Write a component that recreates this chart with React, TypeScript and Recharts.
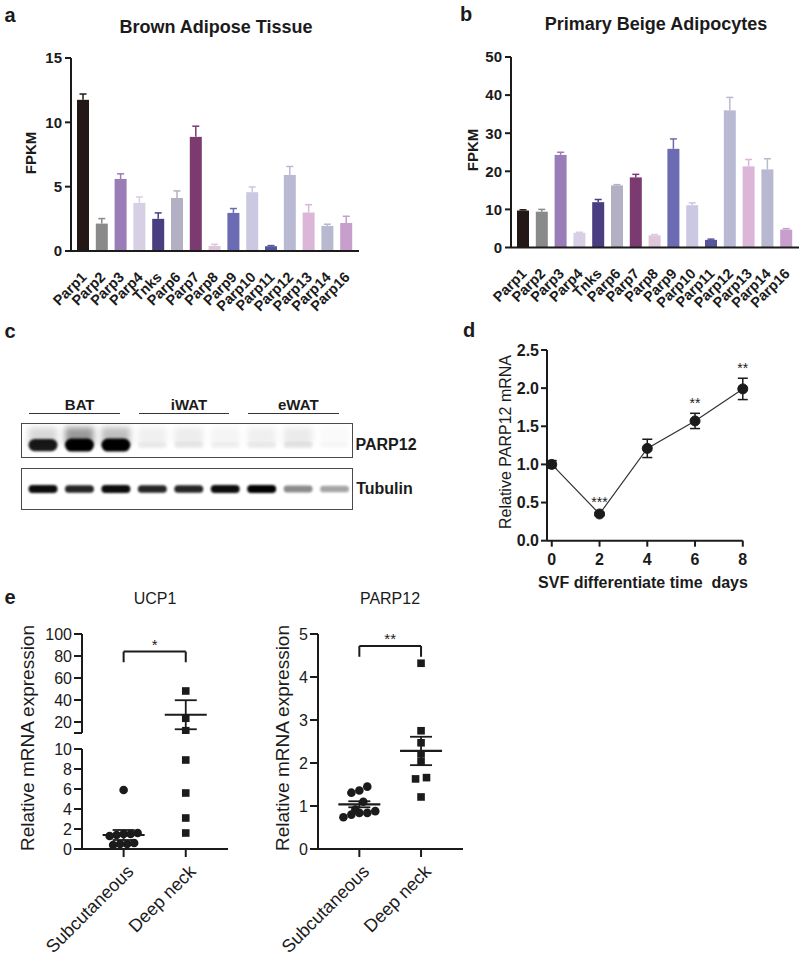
import React from 'react';
import {
  BarChart,
  Bar,
  LineChart,
  Line,
  ScatterChart,
  Scatter,
  XAxis,
  YAxis,
  ErrorBar,
  LabelList,
  ReferenceLine,
} from 'recharts';

const FONT = '"Liberation Sans", Arial, Helvetica, sans-serif';
const INK = '#1b1b1b';

// a, b: FPKM of PARP family members
const genes = ['Parp1', 'Parp2', 'Parp3', 'Parp4', 'Tnks', 'Parp6', 'Parp7', 'Parp8', 'Parp9', 'Parp10', 'Parp11', 'Parp12', 'Parp13', 'Parp14', 'Parp16'];
const geneColors = ['#231815', '#8a8a8a', '#9a7db6', '#d7cfe4', '#4a3d80', '#b3b0c4', '#7b3a70', '#dec6dc', '#6b6bb3', '#cac9e1', '#56569c', '#b9b9d4', '#dbb6d8', '#b8b8d1', '#c79ecc'];
const batFpkm = [11.75, 2.13, 5.6, 3.74, 2.5, 4.12, 8.87, 0.39, 2.96, 4.57, 0.37, 5.91, 2.99, 1.95, 2.18];
const batSem = [0.45, 0.39, 0.4, 0.46, 0.46, 0.55, 0.83, 0.13, 0.34, 0.41, 0.05, 0.66, 0.61, 0.13, 0.52];
const beigeFpkm = [9.7, 9.4, 24.3, 3.85, 11.9, 16.3, 18.4, 3.2, 25.9, 11.1, 2.0, 36.0, 21.3, 20.5, 4.7];
const beigeSem = [0.2, 0.6, 0.7, 0.15, 0.7, 0.2, 0.8, 0.2, 2.6, 0.6, 0.2, 3.4, 1.8, 2.8, 0.25];

// c: western blot, band intensity per lane (0..1)
const blotTissues = ['BAT', 'iWAT', 'eWAT'];
const parp12Band = [0.9, 1, 1, 0.05, 0.06, 0.04, 0.05, 0.07, 0.02];
const parp12Smear = [0.15, 0.4, 0.25, 0.06, 0.07, 0.04, 0.06, 0.08, 0.02];
const tubulinBand = [0.95, 0.85, 0.95, 0.85, 0.85, 0.95, 1, 0.45, 0.35];

// d: PARP12 during SVF differentiation
const days = [0, 2, 4, 6, 8];
const parp12Rel = [1.0, 0.35, 1.21, 1.57, 1.99];
const parp12RelSem = [0.05, 0.02, 0.12, 0.1, 0.14];
const daySig = ['', '***', '', '**', '**'];

// e: human fat depots
const groups = ['Subcutaneous', 'Deep neck'];
const ucp1Sub = [5.9, 1.6, 1.5, 1.5, 1.4, 1.3, 0.6, 0.5, 0.5, 0.4];
const ucp1Deep = [48.2, 23.4, 12.1, 8.9, 5.6, 3.1, 1.6];
const ucp1Mean = [1.4, 26.6];
const ucp1Sem = [0.5, 13.2];
const parp12Sub = [1.45, 1.36, 1.31, 1.1, 0.92, 0.88, 0.84, 0.84, 0.8, 0.74];
const parp12Deep = [4.32, 2.75, 2.47, 2.21, 2.03, 1.66, 1.63, 1.21];
const parp12Mean = [1.04, 2.28];
const parp12Sem = [0.07, 0.33];

const axisLine = { stroke: INK, strokeWidth: 2 };
const tickFont = (size: number, bold: boolean) => ({ fill: INK, fontSize: size, fontWeight: bold ? 700 : 400, fontFamily: FONT });

const Txt = ({ x, y, size, bold = false, rot = 0, children }: any) => (
  <div
    style={{
      position: 'absolute',
      left: x,
      top: y,
      transform: `translate(-50%,-50%) rotate(${rot}deg)`,
      fontSize: size,
      fontWeight: bold ? 700 : 400,
      fontFamily: FONT,
      color: INK,
      whiteSpace: 'pre',
      lineHeight: 1,
    }}
  >
    {children}
  </div>
);

const RotTick = ({ x, y, payload, size, bold, offX, offY, fmt }: any) => (
  <text
    transform={`translate(${x + offX},${y + offY}) rotate(-45)`}
    textAnchor="end"
    fontSize={size}
    fontWeight={bold ? 700 : 400}
    fontFamily={FONT}
    fill={INK}
  >
    {fmt ? fmt(payload.value) : payload.value}
  </text>
);

// bar with an upward-only SEM whisker in the bar's own colour
const BarWithSem = (p: any) => {
  const { x, y, width, height, payload } = p;
  if (!height || !payload) return null;
  const ppu = height / payload.value;
  const top = y - payload.sem * ppu;
  const cx = x + width / 2;
  return (
    <g>
      <rect x={x} y={y} width={width} height={height} fill={payload.color} />
      <line x1={cx} x2={cx} y1={y} y2={top} stroke={payload.color} strokeWidth={1.5} />
      <line x1={cx - 3.5} x2={cx + 3.5} y1={top} y2={top} stroke={payload.color} strokeWidth={1.5} />
    </g>
  );
};

function FpkmPanel({ values, sems, max, step, left, top, plotH }: any) {
  const data = genes.map((gene, i) => ({ gene, value: values[i], sem: sems[i], color: geneColors[i] }));
  const ticks = Array.from({ length: max / step + 1 }, (_, i) => i * step);
  return (
    <div style={{ position: 'absolute', left, top: top - 12 }}>
      <BarChart width={340} height={12 + plotH + 70} data={data} margin={{ top: 12, right: 2, bottom: 0, left: 0 }} barSize={12}>
        <XAxis
          dataKey="gene"
          interval={0}
          height={70}
          tickLine={false}
          tickSize={0}
          tickMargin={0}
          axisLine={axisLine}
          padding={{ left: 3, right: 3 }}
          tick={(p: any) => <RotTick {...p} size={14.5} bold offX={4} offY={27} />}
        />
        <YAxis width={50} domain={[0, max]} ticks={ticks} interval={0} axisLine={axisLine} tickLine={axisLine} tickSize={6} tickMargin={3} tick={tickFont(15, true)} />
        <Bar dataKey="value" isAnimationActive={false} shape={(p: any) => <BarWithSem {...p} />} />
      </BarChart>
    </div>
  );
}

const BlotBand = (p: any) => {
  const { x, y, width, height, payload, kind } = p;
  if (!payload) return null;
  const cx = x + width / 2;
  const v = payload.v;
  const cy = y + height * (kind === 'parp' ? 0.63 : 0.5);
  const bh = kind === 'parp' ? 6 + 7 * v : 6 + 2 * v;
  const bw = 29;
  const sTop = y + height * 0.12;
  return (
    <g>
      {payload.s > 0 && (
        <rect x={cx - bw / 2} y={sTop} width={bw} height={cy - sTop} fill="#000" opacity={payload.s} filter="url(#smearBlur)" />
      )}
      <rect x={cx - bw / 2} y={cy - bh / 2} width={bw} height={bh} rx={bh / 2} fill="#000" opacity={v} filter="url(#bandBlur)" />
    </g>
  );
};

function BlotStrip({ values, smear, kind, top, h }: any) {
  const data = values.map((v: number, i: number) => ({ lane: i, one: 1, v, s: smear ? smear[i] : 0 }));
  return (
    <div style={{ position: 'absolute', left: 21, top }}>
      <BarChart width={332} height={h} data={data} margin={{ top: 0, right: 0, bottom: 0, left: 4 }} barCategoryGap={0}>
        <XAxis dataKey="lane" hide />
        <YAxis hide domain={[0, 1]} />
        <Bar dataKey="one" isAnimationActive={false} shape={(p: any) => <BlotBand {...p} kind={kind} />} />
      </BarChart>
      <div style={{ position: 'absolute', left: 0, top: 0, width: 332, height: h, border: '1.5px solid #4a4a4a', boxSizing: 'border-box' }} />
    </div>
  );
}

// horizontal spread of overlapping points, Prism-style rows
const X_PX = 62;
const swarm = (vals: number[], group: number, pxPerY: number, sizePx: number, stepPx: number) => {
  const sorted = [...vals].sort((a, b) => b - a);
  const rows: number[][] = [];
  sorted.forEach((v) => {
    const row = rows[rows.length - 1];
    if (row && (row[0] - v) * pxPerY < sizePx) row.push(v);
    else rows.push([v]);
  });
  return rows.flatMap((row) =>
    [...row].sort((a, b) => a - b).map((v, i) => ({ x: group + ((i - (row.length - 1) / 2) * stepPx) / X_PX, y: v }))
  );
};

const DotShape = (p: any) => <circle cx={p.cx} cy={p.cy} r={4.3} fill={INK} />;
const SquareShape = (p: any) => <rect x={p.cx - 3.8} y={p.cy - 3.8} width={7.6} height={7.6} fill={INK} />;
const MeanShape = (p: any) => <line x1={p.cx - 21} x2={p.cx + 21} y1={p.cy} y2={p.cy} stroke={INK} strokeWidth={2.2} />;

const bracket = (y: number, leg: number, mark: string, key: string) => [
  <ReferenceLine key={key + 'l'} segment={[{ x: 1, y: leg }, { x: 1, y }]} stroke={INK} strokeWidth={2} ifOverflow="visible" />,
  <ReferenceLine
    key={key + 't'}
    segment={[{ x: 1, y }, { x: 2, y }]}
    stroke={INK}
    strokeWidth={2}
    ifOverflow="visible"
    label={{ value: mark, position: 'top', offset: 2, fontSize: 15, fill: INK, fontFamily: FONT }}
  />,
  <ReferenceLine key={key + 'r'} segment={[{ x: 2, y }, { x: 2, y: leg }]} stroke={INK} strokeWidth={2} ifOverflow="visible" />,
];

const X_DOMAIN = [0.33, 2.68];
const groupTick = (p: any) => <RotTick {...p} size={18} offX={11} offY={15.7} fmt={(v: number) => groups[v - 1]} />;

function DayPanel() {
  const data = days.map((day, i) => ({ day, rel: parp12Rel[i], sem: parp12RelSem[i], top: parp12Rel[i] + parp12RelSem[i], sig: daySig[i] }));
  return (
    <div style={{ position: 'absolute', left: 497.2, top: 338 }}>
      <LineChart width={50 + 195.8 + 10} height={12 + 190.7 + 34} data={data} margin={{ top: 12, right: 10, bottom: 0, left: 0 }}>
        <XAxis
          type="number"
          dataKey="day"
          domain={[-0.2, 8]}
          ticks={[0, 2, 4, 6, 8]}
          interval={0}
          height={34}
          axisLine={axisLine}
          tickLine={axisLine}
          tickSize={6}
          tickMargin={7}
          tick={tickFont(16, true)}
        />
        <YAxis
          width={50}
          domain={[0, 2.5]}
          ticks={[0, 0.5, 1, 1.5, 2, 2.5]}
          interval={0}
          tickFormatter={(v: number) => v.toFixed(1)}
          axisLine={axisLine}
          tickLine={axisLine}
          tickSize={6}
          tickMargin={2}
          tick={tickFont(16, true)}
        />
        <Line dataKey="rel" stroke="#333" strokeWidth={1.2} dot={{ r: 5, fill: INK, stroke: INK, strokeWidth: 1 }} isAnimationActive={false}>
          <ErrorBar dataKey="sem" direction="y" width={5} stroke={INK} strokeWidth={1.5} />
        </Line>
        <Line dataKey="top" stroke="none" dot={false} activeDot={false} isAnimationActive={false}>
          <LabelList dataKey="sig" position="top" offset={5} style={{ fontSize: 14, fill: INK, fontFamily: FONT }} />
        </Line>
      </LineChart>
    </div>
  );
}

function Ucp1Panel() {
  const upperPts = swarm(ucp1Deep.filter((v) => v > 10), 2, 1.1, 8, 8);
  const lowerSub = swarm(ucp1Sub, 1, 10, 8, 7);
  const lowerDeep = swarm(ucp1Deep.filter((v) => v <= 10), 2, 10, 8, 8);
  return (
    <>
      <div style={{ position: 'absolute', left: 32, top: 622 }}>
        <ScatterChart width={200} height={112} margin={{ top: 12, right: 4, bottom: 1, left: 0 }}>
          <XAxis type="number" dataKey="x" domain={X_DOMAIN} hide />
          <YAxis
            type="number"
            dataKey="y"
            width={50}
            domain={[10, 100]}
            ticks={[10, 20, 40, 60, 80, 100]}
            interval={0}
            tickFormatter={(v: number) => (v === 10 ? '' : String(v))}
            axisLine={axisLine}
            tickLine={axisLine}
            tickSize={8}
            tickMargin={2}
            tick={tickFont(16, false)}
          />
          <Scatter data={upperPts} shape={SquareShape} isAnimationActive={false} />
          <Scatter data={[{ x: 2, y: ucp1Mean[1], sem: ucp1Sem[1] }]} shape={MeanShape} isAnimationActive={false}>
            <ErrorBar dataKey="sem" direction="y" width={11} stroke={INK} strokeWidth={1.8} />
          </Scatter>
          {bracket(84, 74.3, '*', 'u')}
        </ScatterChart>
      </div>
      <div style={{ position: 'absolute', left: 32, top: 737.3 }}>
        <ScatterChart width={200} height={220} margin={{ top: 12, right: 4, bottom: 0, left: 0 }}>
          <XAxis
            type="number"
            dataKey="x"
            domain={X_DOMAIN}
            ticks={[1, 2]}
            interval={0}
            height={108}
            axisLine={axisLine}
            tickLine={axisLine}
            tickSize={8}
            tickMargin={0}
            tick={groupTick}
          />
          <YAxis
            type="number"
            dataKey="y"
            width={50}
            domain={[0, 10]}
            ticks={[0, 2, 4, 6, 8, 10]}
            interval={0}
            axisLine={axisLine}
            tickLine={axisLine}
            tickSize={8}
            tickMargin={2}
            tick={tickFont(16, false)}
          />
          <Scatter data={lowerSub} shape={DotShape} isAnimationActive={false} />
          <Scatter data={lowerDeep} shape={SquareShape} isAnimationActive={false} />
          <Scatter data={[{ x: 1, y: ucp1Mean[0], sem: ucp1Sem[0] }]} shape={MeanShape} isAnimationActive={false}>
            <ErrorBar dataKey="sem" direction="y" width={11} stroke={INK} strokeWidth={1.8} />
          </Scatter>
        </ScatterChart>
      </div>
    </>
  );
}

function Parp12DepotPanel() {
  const subPts = swarm(parp12Sub, 1, 43.07, 8, 8);
  const deepPts = swarm(parp12Deep, 2, 43.07, 7, 11);
  const means = groups.map((_, i) => ({ x: i + 1, y: parp12Mean[i], sem: parp12Sem[i] }));
  return (
    <div style={{ position: 'absolute', left: 268, top: 622 }}>
      <ScatterChart width={199} height={335} margin={{ top: 12, right: 4, bottom: 0, left: 0 }}>
        <XAxis
          type="number"
          dataKey="x"
          domain={X_DOMAIN}
          ticks={[1, 2]}
          interval={0}
          height={108}
          axisLine={axisLine}
          tickLine={axisLine}
          tickSize={8}
          tickMargin={0}
          tick={groupTick}
        />
        <YAxis
          type="number"
          dataKey="y"
          width={50}
          domain={[0, 5]}
          ticks={[0, 1, 2, 3, 4, 5]}
          interval={0}
          axisLine={axisLine}
          tickLine={axisLine}
          tickSize={8}
          tickMargin={2}
          tick={tickFont(16, false)}
        />
        <Scatter data={subPts} shape={DotShape} isAnimationActive={false} />
        <Scatter data={deepPts} shape={SquareShape} isAnimationActive={false} />
        <Scatter data={means} shape={MeanShape} isAnimationActive={false}>
          <ErrorBar dataKey="sem" direction="y" width={11} stroke={INK} strokeWidth={1.8} />
        </Scatter>
        {bracket(4.72, 4.47, '**', 'p')}
      </ScatterChart>
    </div>
  );
}

const laneX = (i: number) => 25 + 36.44 * (i + 0.5);

export default function App() {
  return (
    <div style={{ position: 'absolute', left: 0, top: 0, width: 800, height: 958, overflow: 'hidden', background: '#fff', fontFamily: FONT }}>
      <svg width={0} height={0} style={{ position: 'absolute' }}>
        <defs>
          <filter id="bandBlur" x="-30%" y="-100%" width="160%" height="300%">
            <feGaussianBlur stdDeviation="1.3" />
          </filter>
          <filter id="smearBlur" x="-30%" y="-50%" width="160%" height="200%">
            <feGaussianBlur stdDeviation="3" />
          </filter>
        </defs>
      </svg>

      {/* a */}
      <Txt x={10} y={15} size={20} bold>a</Txt>
      <Txt x={216} y={27} size={18} bold>Brown Adipose Tissue</Txt>
      <Txt x={30} y={153} size={15} bold rot={-90}>FPKM</Txt>
      <FpkmPanel values={batFpkm} sems={batSem} max={15} step={5} left={21} top={58} plotH={193} />

      {/* b */}
      <Txt x={466} y={14} size={20} bold>b</Txt>
      <Txt x={656} y={24} size={18} bold>Primary Beige Adipocytes</Txt>
      <Txt x={472} y={150} size={15} bold rot={-90}>FPKM</Txt>
      <FpkmPanel values={beigeFpkm} sems={beigeSem} max={50} step={10} left={461} top={56.5} plotH={190.5} />

      {/* c */}
      <Txt x={10} y={331} size={20} bold>c</Txt>
      {blotTissues.map((t, g) => (
        <React.Fragment key={t}>
          <Txt x={(laneX(3 * g) + laneX(3 * g + 2)) / 2} y={404} size={15} bold>{t}</Txt>
          <div
            style={{
              position: 'absolute',
              left: laneX(3 * g) - 14,
              top: 413,
              width: laneX(3 * g + 2) - laneX(3 * g) + 18,
              borderTop: '1.5px solid #333',
            }}
          />
        </React.Fragment>
      ))}
      <BlotStrip values={parp12Band} smear={parp12Smear} kind="parp" top={423} h={35} />
      <BlotStrip values={tubulinBand} kind="tub" top={468} h={42} />
      <Txt x={386} y={445} size={16} bold>PARP12</Txt>
      <Txt x={384.5} y={489} size={16} bold>Tubulin</Txt>

      {/* d */}
      <Txt x={469} y={330} size={20} bold>d</Txt>
      <Txt x={506} y={442} size={16} rot={-90}>Relative PARP12 mRNA</Txt>
      <Txt x={643} y={583} size={16} bold>SVF differentiate time  days</Txt>
      <DayPanel />

      {/* e */}
      <Txt x={10} y={597} size={20} bold>e</Txt>
      <Txt x={155} y={599} size={16}>UCP1</Txt>
      <Txt x={390} y={599} size={16}>PARP12</Txt>
      <Txt x={27} y={738} size={19} rot={-90}>Relative mRNA expression</Txt>
      <Txt x={282} y={738} size={19} rot={-90}>Relative mRNA expression</Txt>
      <Ucp1Panel />
      <Parp12DepotPanel />
    </div>
  );
}
